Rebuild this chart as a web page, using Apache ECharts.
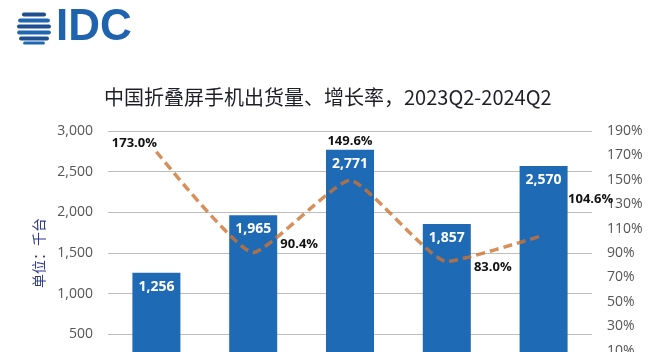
<!DOCTYPE html>
<html>
<head>
<meta charset="utf-8">
<script src="https://cdn.jsdelivr.net/npm/echarts@6/dist/echarts.min.js"></script>
<style>
  html, body { margin: 0; padding: 0; background: #fff; }
  #main { width: 660px; height: 352px; }
</style>
</head>
<body>
<div id="main"></div>
<script>
var quarters = ['2023Q2', '2023Q3', '2023Q4', '2024Q1', '2024Q2'];
var shipments = [1256, 1965, 2771, 1857, 2570];
var growth = [173.0, 90.4, 149.6, 83.0, 104.6];
// where each growth label sits relative to its point
var growthLabelOffset = [[-22, 4], [46, 4], [0, -27], [46, 18], [47, -24]];

function logoStripes() {
    var cx = 34, cy = 28.5, r = 17;
    var items = [];
    var rows = [[-16, 4, '#1f4f8f'], [-10, 4, '#1f67b0'], [-4, 4, '#1f4f8f'], [2, 4, '#1f67b0'], [8, 4, '#1f4f8f'], [13, 3, '#1f67b0']];
    rows.forEach(function (row) {
        var y0 = row[0], h = row[1];
        var ym = Math.min(Math.abs(y0), Math.abs(y0 + h));
        if (y0 < 0 && y0 + h > 0) ym = 0;
        var half = Math.sqrt(Math.max(r * r - ym * ym, 0));
        items.push({
            type: 'rect',
            shape: { x: cx - half, y: cy + y0, width: half * 2, height: h, r: 2 },
            style: { fill: row[2] }
        });
    });
    return items;
}

var myChart = echarts.init(document.getElementById('main'));

var option = {
    backgroundColor: '#ffffff',
    animation: false,
    title: {
        text: '中国折叠屏手机出货量、增长率，2023Q2-2024Q2',
        left: 99,
        top: 82,
        textStyle: {
            fontFamily: 'Noto Sans CJK SC',
            fontSize: 20,
            fontWeight: 'normal',
            color: '#1e1e28'
        }
    },
    graphic: logoStripes().concat([{
        type: 'text',
        left: 56,
        top: 6,
        style: {
            text: 'IDC',
            font: 'bold 44px "Liberation Sans", sans-serif',
            fill: '#1f62ad'
        }
    }]),
    grid: {
        left: 108,
        right: 68,
        top: 131,
        height: 244,
        outerBoundsMode: 'none'
    },
    xAxis: {
        type: 'category',
        data: quarters,
        axisLine: { show: false },
        axisTick: { show: false },
        axisLabel: { show: false }
    },
    yAxis: [{
        type: 'value',
        min: 0,
        max: 3000,
        interval: 500,
        name: '单位：千台',
        nameLocation: 'middle',
        nameRotate: 90,
        nameGap: 62,
        nameTextStyle: {
            fontFamily: 'Noto Sans CJK SC',
            fontSize: 14,
            color: '#2f3a8f'
        },
        axisLine: { show: false },
        axisTick: { show: false },
        axisLabel: {
            margin: 15,
            fontSize: 14,
            fontFamily: 'Open Sans',
            color: '#555',
            formatter: function (v) { return v.toLocaleString('en-US'); }
        },
        splitLine: { lineStyle: { color: '#bdbdbd', width: 1 } }
    }, {
        type: 'value',
        min: -10,
        max: 190,
        interval: 20,
        axisLine: { show: false },
        axisTick: { show: false },
        splitLine: { show: false },
        axisLabel: {
            margin: 15,
            fontSize: 14,
            fontFamily: 'Open Sans',
            color: '#555',
            formatter: '{value}%'
        }
    }],
    series: [{
        name: '出货量',
        type: 'bar',
        data: shipments,
        barWidth: 48,
        itemStyle: { color: '#1f6ab4' },
        label: {
            show: true,
            position: 'insideTop',
            distance: 7,
            color: '#ffffff',
            fontWeight: 'bold',
            fontSize: 14,
            fontFamily: 'Open Sans',
            formatter: function (p) { return p.value.toLocaleString('en-US'); }
        }
    }, {
        name: '增长率',
        type: 'line',
        yAxisIndex: 1,
        smooth: 0.15,
        symbol: 'circle',
        symbolSize: 1,
        itemStyle: { color: 'rgba(0,0,0,0)' },
        data: growth.map(function (v, i) {
            return {
                value: v,
                label: { offset: growthLabelOffset[i] }
            };
        }),
        lineStyle: {
            color: 'rgba(205,115,50,0.8)',
            width: 3.5,
            type: [9, 5]
        },
        label: {
            show: true,
            position: 'top',
            color: '#111',
            fontWeight: 'bold',
            fontSize: 13,
            fontFamily: 'Open Sans',
            formatter: function (p) { return p.value.toFixed(1) + '%'; }
        },
        z: 3
    }]
};

myChart.setOption(option);
</script>
</body>
</html>
